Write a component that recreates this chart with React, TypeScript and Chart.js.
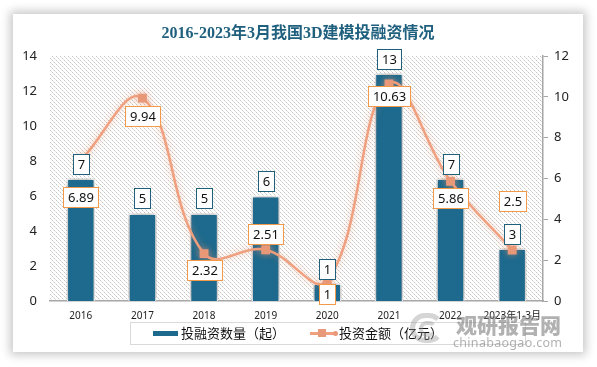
import React, { useEffect, useRef } from "react";
import { Chart, registerables } from "chart.js";

Chart.register(...registerables);

const categories = ["2016", "2017", "2018", "2019", "2020", "2021", "2022", "2023年1-3月"];
const dealCounts = [7, 5, 5, 6, 1, 13, 7, 3];
const investAmounts = [6.89, 9.94, 2.32, 2.51, 1, 10.63, 5.86, 2.5];
const leftTicks = [0, 2, 4, 6, 8, 10, 12, 14];
const rightTicks = [0, 2, 4, 6, 8, 10, 12];

// label vertical offsets (styling) for the amount labels relative to their points
const amountLabelDy = [37, 18, 16, -16, 13, 12, 17, -49];

const BAR_COLOR = "#1d6a8e";
const LINE_COLOR = "#f0a07e";
const MARKER_COLOR = "#e8997a";
const BLUE_BORDER = "#1f5f7a";
const ORANGE_BORDER = "#f39a4a";
const FONT = "'Noto Sans', 'Noto Sans CJK SC', sans-serif";

function makeHatch(): CanvasPattern | string {
  const c = document.createElement("canvas");
  c.width = 4;
  c.height = 4;
  const g = c.getContext("2d");
  if (!g) return "#f4f4f4";
  g.fillStyle = "#ffffff";
  g.fillRect(0, 0, 4, 4);
  g.fillStyle = "#c4c4c4";
  g.fillRect(0, 0, 1, 1);
  g.fillRect(2, 2, 1, 1);
  g.fillStyle = "#e2e2e2";
  g.fillRect(1, 1, 1, 1);
  g.fillRect(3, 3, 1, 1);
  const p = g.createPattern(c, "repeat");
  return p || "#f4f4f4";
}

const hatchPlugin = {
  id: "hatchBg",
  beforeDraw(chart: any) {
    const { ctx, chartArea } = chart;
    ctx.save();
    ctx.fillStyle = makeHatch();
    ctx.fillRect(chartArea.left, chartArea.top, chartArea.right - chartArea.left, chartArea.bottom - chartArea.top);
    ctx.restore();
  },
};

const shadowPlugin = {
  id: "shadows",
  beforeDatasetDraw(chart: any, args: any) {
    const ctx = chart.ctx;
    ctx.save();
    if (args.index === 0) {
      ctx.shadowColor = "rgba(0,0,0,0.45)";
      ctx.shadowBlur = 6;
      ctx.shadowOffsetX = 0;
      ctx.shadowOffsetY = 0;
    } else {
      ctx.shadowColor = "rgba(240,150,110,0.55)";
      ctx.shadowBlur = 7;
    }
  },
  afterDatasetDraw(chart: any) {
    chart.ctx.restore();
  },
};

function drawBox(ctx: CanvasRenderingContext2D, cx: number, cy: number, text: string, border: string) {
  ctx.font = `13px ${FONT}`;
  const tw = ctx.measureText(text).width;
  const w = Math.round(tw + 9);
  const h = 20;
  const x = Math.round(cx - w / 2) + 0.5;
  const y = Math.round(cy - h / 2) + 0.5;
  ctx.fillStyle = "#ffffff";
  ctx.fillRect(x, y, w, h);
  ctx.strokeStyle = border;
  ctx.lineWidth = 1;
  ctx.strokeRect(x, y, w, h);
  ctx.fillStyle = "#111111";
  ctx.textAlign = "center";
  ctx.textBaseline = "middle";
  ctx.fillText(text, x + w / 2, y + h / 2 + 0.5);
}

const labelPlugin = {
  id: "boxLabels",
  afterDatasetsDraw(chart: any) {
    const ctx = chart.ctx;
    ctx.save();
    const barMeta = chart.getDatasetMeta(0);
    barMeta.data.forEach((el: any, i: number) => {
      drawBox(ctx, el.x, el.y - 15, String(dealCounts[i]), BLUE_BORDER);
    });
    const lineMeta = chart.getDatasetMeta(1);
    lineMeta.data.forEach((el: any, i: number) => {
      drawBox(ctx, el.x, el.y + amountLabelDy[i], String(investAmounts[i]), ORANGE_BORDER);
    });
    // title
    ctx.font = `bold 16px 'Liberation Serif', 'Noto Sans CJK SC', serif`;
    ctx.fillStyle = "#1f607e";
    ctx.textAlign = "center";
    ctx.textBaseline = "middle";
    ctx.fillText("2016-2023年3月我国3D建模投融资情况", 298, 34);
    ctx.restore();
  },
};

export default function App() {
  const ref = useRef<HTMLCanvasElement>(null);
  useEffect(() => {
    if (!ref.current) return;
    const chart = new Chart(ref.current, {
      type: "bar",
      data: {
        labels: categories,
        datasets: [
          {
            type: "bar",
            label: "投融资数量（起）",
            data: dealCounts,
            backgroundColor: BAR_COLOR,
            borderColor: "#ffffff",
            borderWidth: 1.5,
            barPercentage: 0.46,
            categoryPercentage: 1,
            yAxisID: "y",
            order: 2,
          },
          {
            type: "line",
            label: "投资金额（亿元）",
            data: investAmounts,
            borderColor: LINE_COLOR,
            borderWidth: 2.5,
            tension: 0.4,
            pointStyle: "rect",
            pointRadius: 4.5,
            pointBackgroundColor: MARKER_COLOR,
            pointBorderColor: MARKER_COLOR,
            yAxisID: "y1",
            order: 1,
          } as any,
        ],
      },
      options: {
        responsive: false,
        animation: false,
        layout: { padding: { top: 56, left: 0, right: 0, bottom: 0 } },
        plugins: {
          legend: { display: false },
          title: { display: false },
          tooltip: { enabled: false },
        },
        scales: {
          x: {
            grid: { display: false, drawTicks: false },
            border: { display: true, color: "#a6a6a6", width: 1.5 },
            ticks: { color: "#222", font: { size: 10, family: FONT }, padding: 9, maxRotation: 0, autoSkip: false },
            afterFit(scale: any) {
              scale.height = 66;
            },
          },
          y: {
            position: "left",
            min: 0,
            max: 14,
            afterBuildTicks(scale: any) {
              scale.ticks = leftTicks.map((v) => ({ value: v }));
            },
            grid: { display: false, drawTicks: false },
            border: { display: false },
            ticks: { color: "#222", font: { size: 13, family: FONT }, padding: 13 },
            afterFit(scale: any) {
              scale.width = 50;
            },
          },
          y1: {
            position: "right",
            min: 0,
            max: 12,
            afterBuildTicks(scale: any) {
              scale.ticks = rightTicks.map((v) => ({ value: v }));
            },
            grid: { drawOnChartArea: false, drawTicks: true, tickLength: 5, color: "#a6a6a6" },
            border: { display: true, color: "#a6a6a6", width: 1.5 },
            ticks: { color: "#222", font: { size: 13, family: FONT }, padding: 6 },
            afterFit(scale: any) {
              scale.width = 54;
            },
          },
        },
      },
      plugins: [hatchPlugin, shadowPlugin, labelPlugin],
    });
    return () => chart.destroy();
  }, []);

  return (
    <div style={{ position: "fixed", left: 0, top: 0, width: 597, height: 367, background: "#ffffff", overflow: "hidden" }}>
      <div
        style={{
          position: "absolute",
          left: 13,
          top: 14,
          width: 570,
          height: 338,
          background: "#ffffff",
          boxShadow: "0 0 9px 3px rgba(0,0,0,0.22)",
        }}
      />
      <canvas ref={ref} width={597} height={367} style={{ position: "absolute", left: 0, top: 0, width: 597, height: 367 }} />
      <div
        style={{
          position: "absolute",
          left: 130,
          top: 322,
          width: 396,
          height: 23,
          border: "1px solid #d9d9d9",
          boxSizing: "border-box",
        }}
      />
      <div style={{ position: "absolute", left: 153, top: 331, width: 25, height: 5, background: BAR_COLOR }} />
      <div style={{ position: "absolute", left: 181, top: 324, fontFamily: FONT, fontSize: 13, lineHeight: "18px", color: "#111", whiteSpace: "nowrap" }}>
        投融资数量（起）
      </div>
      <div style={{ position: "absolute", left: 310, top: 332, width: 27, height: 2.5, background: LINE_COLOR }} />
      <div style={{ position: "absolute", left: 318, top: 329, width: 8, height: 8, background: MARKER_COLOR }} />
      <div style={{ position: "absolute", left: 333, top: 331, width: 5, height: 5, borderRadius: 3, background: MARKER_COLOR }} />
      <div style={{ position: "absolute", left: 339, top: 324, fontFamily: FONT, fontSize: 13, lineHeight: "18px", color: "#111", whiteSpace: "nowrap" }}>
        投资金额（亿元）
      </div>
      <div style={{ position: "absolute", left: 410, top: 313, width: 34, height: 30, borderRadius: 17, border: "5px solid rgba(150,150,150,0.4)", borderRightColor: "transparent", boxSizing: "border-box" }} />
      <div style={{ position: "absolute", left: 419, top: 321, width: 18, height: 16, borderRadius: 9, border: "4px solid rgba(150,150,150,0.4)", borderRightColor: "transparent", boxSizing: "border-box" }} />
      <div style={{ position: "absolute", left: 456, top: 310, fontFamily: "'Noto Sans CJK SC', sans-serif", fontWeight: 900, fontSize: 21, lineHeight: "28px", color: "rgba(125,125,125,0.6)", whiteSpace: "nowrap" }}>
        观研报告网
      </div>
      <div style={{ position: "absolute", left: 453, top: 335, fontFamily: FONT, fontSize: 12.5, lineHeight: "16px", color: "rgba(125,125,125,0.6)", letterSpacing: 0.3, whiteSpace: "nowrap" }}>
        chinabaogao.com
      </div>
    </div>
  );
}
